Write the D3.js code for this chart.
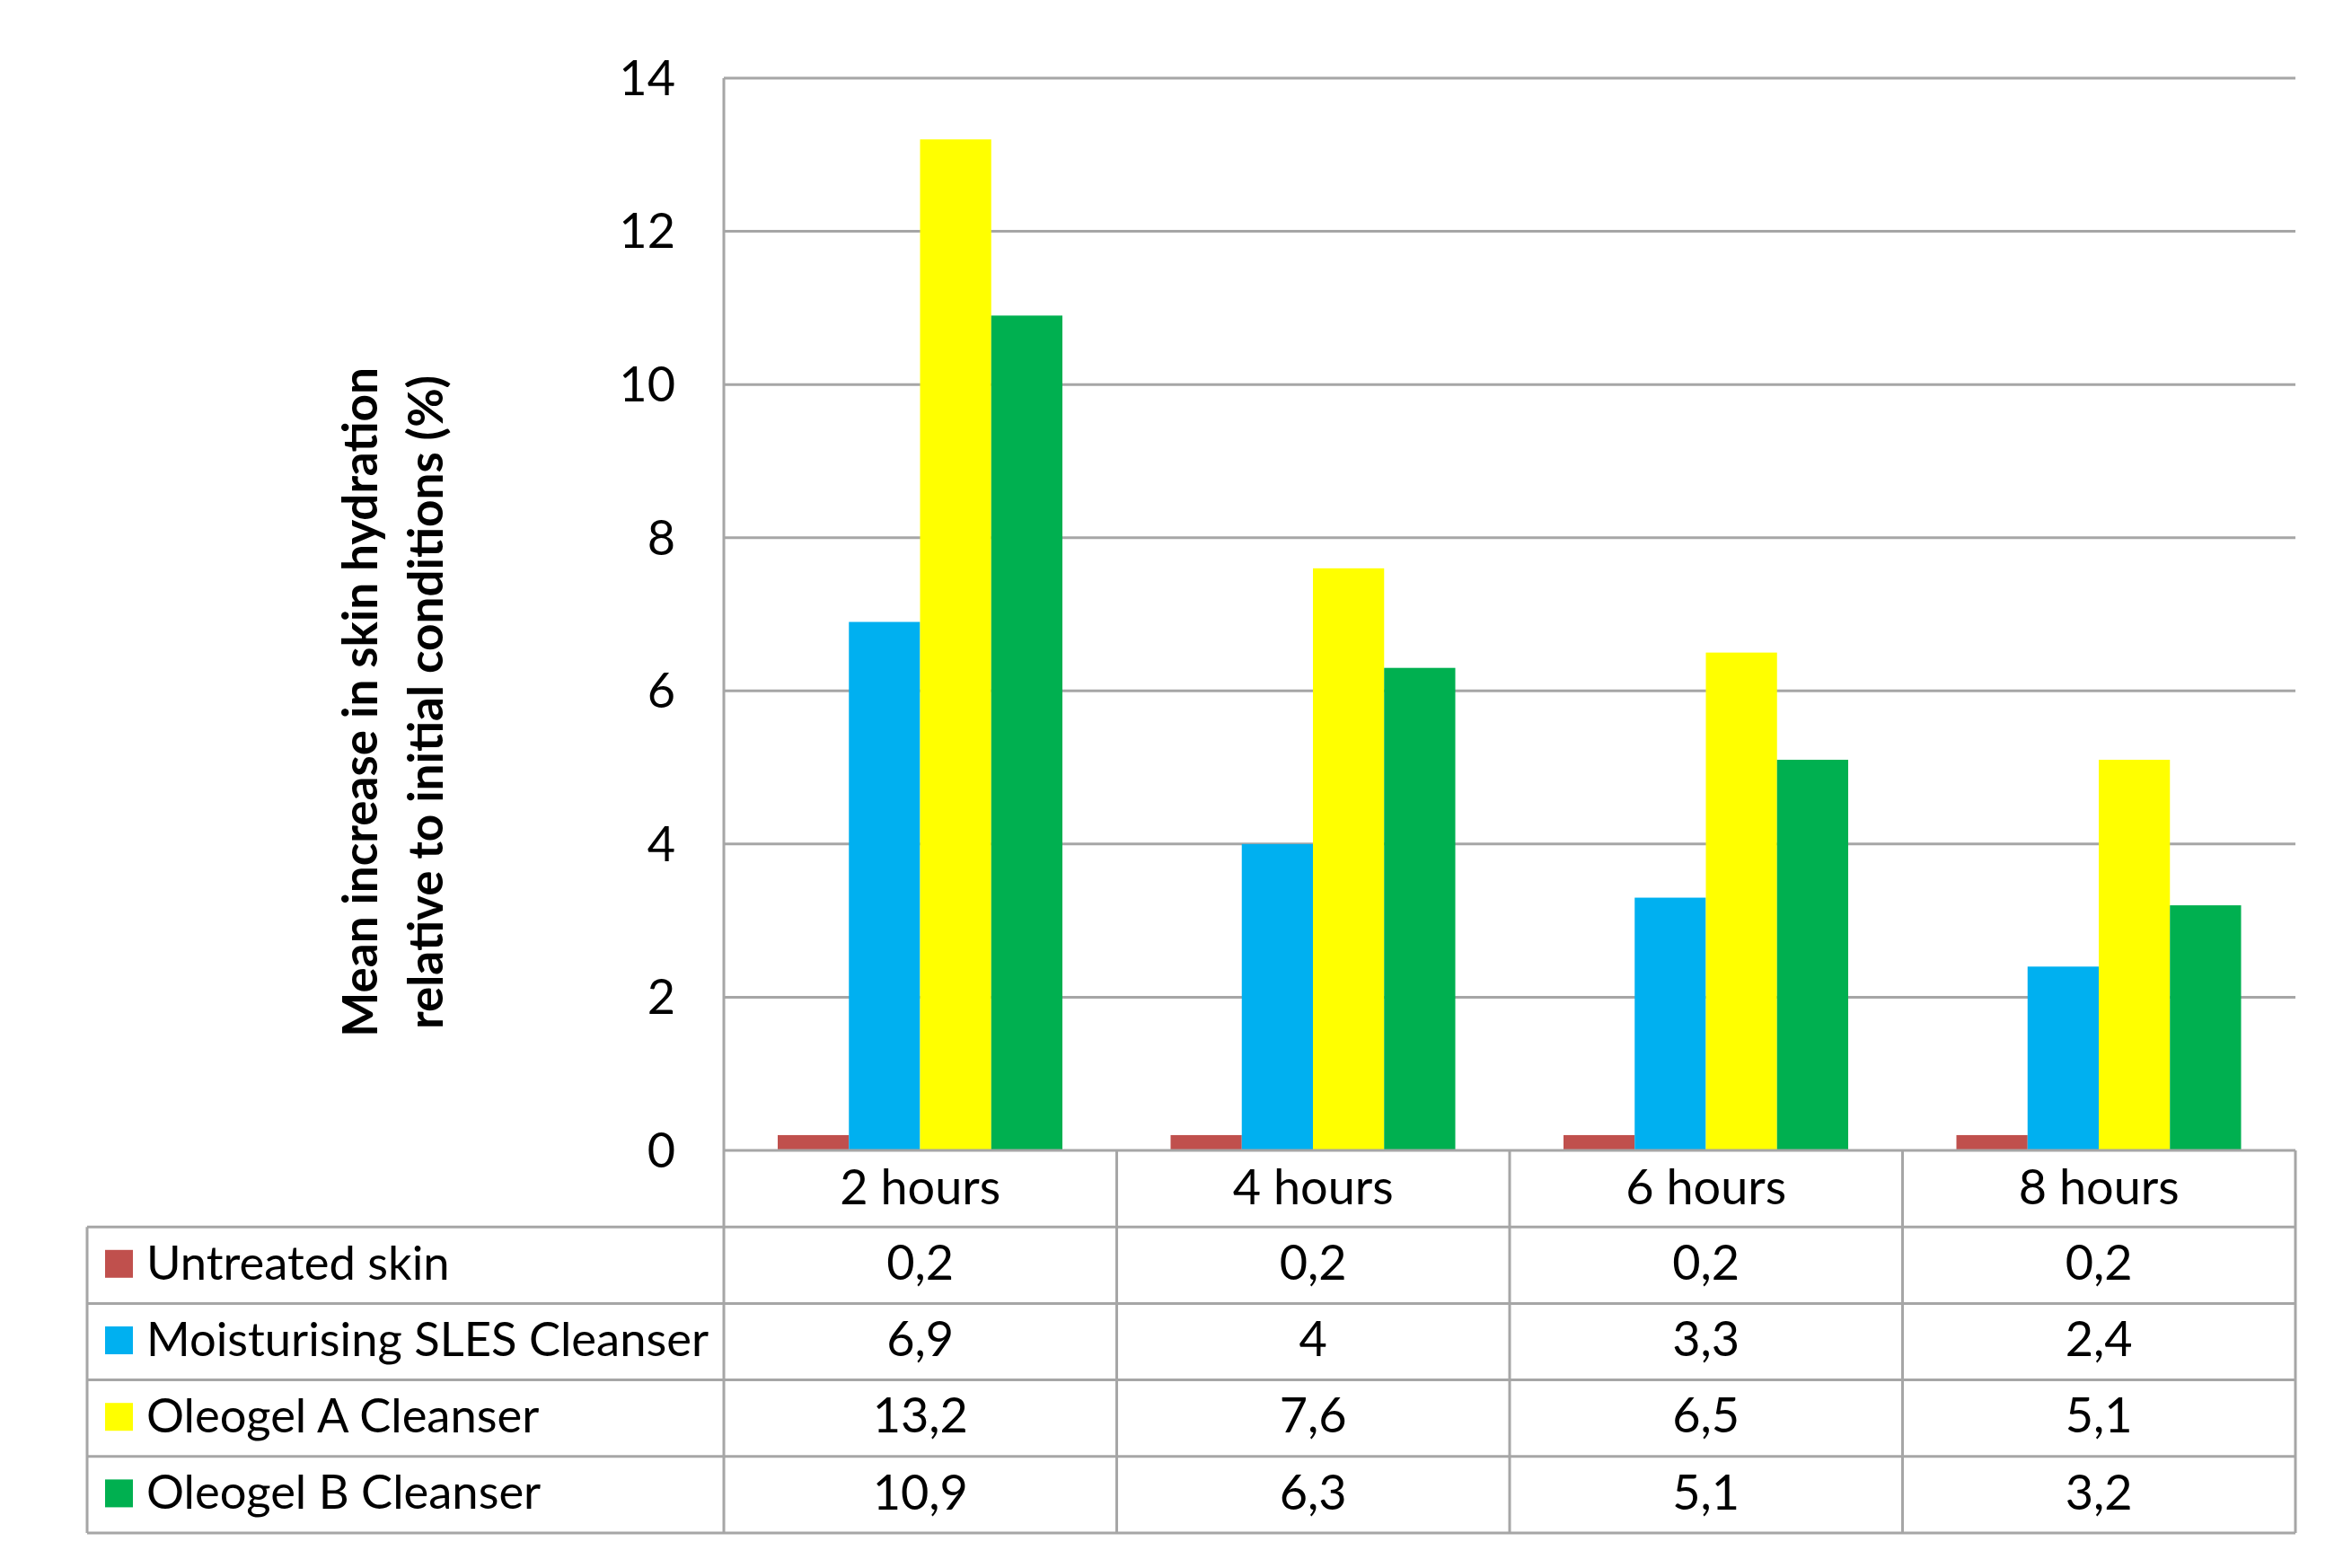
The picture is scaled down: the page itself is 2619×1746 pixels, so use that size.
<!DOCTYPE html>
<html><head><meta charset="utf-8">
<script src="https://cdn.jsdelivr.net/npm/d3@7/dist/d3.min.js"></script>
<style>html,body{margin:0;padding:0;background:#fff;} svg{display:block;}</style>
</head><body>
<svg id="c" width="2619" height="1746"></svg>
<script>
const categories = ["2 hours", "4 hours", "6 hours", "8 hours"];
const seriesNames = ["Untreated skin", "Moisturising SLES Cleanser", "Oleogel A Cleanser", "Oleogel B Cleanser"];
const untreated = [0.2, 0.2, 0.2, 0.2];
const moisturising = [6.9, 4, 3.3, 2.4];
const oleogelA = [13.2, 7.6, 6.5, 5.1];
const oleogelB = [10.9, 6.3, 5.1, 3.2];
const seriesColors = ["#C0504D", "#00B0F0", "#FFFF00", "#00B050"];
const yTicks = [0, 2, 4, 6, 8, 10, 12, 14];
const yTitle = ["Mean increase in skin hydration", "relative to initial conditions (%)"];

const seriesValues = [untreated, moisturising, oleogelA, oleogelB];
const fmt = v => String(v).replace(".", ",");

const svg = d3.select("#c");
const font = "Lato, 'Open Sans', sans-serif";
const grid = "#A6A6A6";
const L = 806, R = 2556, T = 87, B = 1281;
const tableLeft = 97;
const rowH = 85.2;
const fs = 54;

const x0 = d3.scaleBand().domain(categories).range([L, R]).paddingInner(0).paddingOuter(0);
const x1 = d3.scaleBand().domain(seriesNames).range([60, 377]).padding(0);
const y = d3.scaleLinear().domain([0, 14]).range([B, T]);

// gridlines
svg.append("g").selectAll("line").data(yTicks.filter(t => t > 0)).join("line")
  .attr("x1", L).attr("x2", R).attr("y1", d => y(d)).attr("y2", d => y(d))
  .attr("stroke", grid).attr("stroke-width", 3);

// bars
const g = svg.append("g");
seriesNames.forEach((s, si) => {
  g.selectAll(".b" + si).data(categories).join("rect")
    .attr("x", (c) => x0(c) + x1(s))
    .attr("width", x1.bandwidth())
    .attr("y", (c, i) => y(seriesValues[si][i]))
    .attr("height", (c, i) => y(0) - y(seriesValues[si][i]))
    .attr("fill", seriesColors[si]);
});

// y tick labels
svg.append("g").selectAll("text").data(yTicks).join("text")
  .attr("x", 752).attr("y", d => y(d)).attr("dy", "0.35em")
  .attr("text-anchor", "end").attr("font-family", font).attr("font-size", fs)
  .text(d => d);

// y title
const yt = svg.append("text").attr("transform", "translate(0,782) rotate(-90)")
  .attr("text-anchor", "middle").attr("font-family", font).attr("font-weight", "bold").attr("font-size", 53);
yt.append("tspan").attr("x", 0).attr("y", 420).text(yTitle[0]);
yt.append("tspan").attr("x", 0).attr("y", 493).text(yTitle[1]);

// table lines
const tb = svg.append("g").attr("stroke", grid).attr("stroke-width", 3).attr("fill", "none");
const bottom = B + rowH * 5;
tb.append("line").attr("x1", L).attr("x2", L).attr("y1", T).attr("y2", bottom);
tb.append("line").attr("x1", L).attr("x2", R).attr("y1", B).attr("y2", B);
for (let k = 1; k <= 5; k++) {
  tb.append("line").attr("x1", tableLeft).attr("x2", R).attr("y1", B + rowH * k).attr("y2", B + rowH * k);
}
tb.append("line").attr("x1", tableLeft).attr("x2", tableLeft).attr("y1", B + rowH).attr("y2", bottom);
categories.forEach((c, i) => {
  const xr = x0(c) + x0.bandwidth();
  tb.append("line").attr("x1", xr).attr("x2", xr).attr("y1", B).attr("y2", bottom);
});

// header labels
svg.append("g").selectAll("text").data(categories).join("text")
  .attr("x", c => x0(c) + x0.bandwidth() / 2).attr("y", B + rowH / 2).attr("dy", "0.32em")
  .attr("text-anchor", "middle").attr("font-family", font).attr("font-size", fs)
  .text(c => c);

// legend rows
seriesNames.forEach((s, si) => {
  const cy = B + rowH * (si + 1) + rowH / 2;
  svg.append("rect").attr("x", 117).attr("y", cy - 17).attr("width", 31).attr("height", 31).attr("fill", seriesColors[si]);
  svg.append("text").attr("x", 163).attr("y", cy).attr("dy", "0.3em")
    .attr("font-family", font).attr("font-size", 52.5).text(s);
  svg.append("g").selectAll("text").data(categories).join("text")
    .attr("x", c => x0(c) + x0.bandwidth() / 2).attr("y", cy).attr("dy", "0.3em")
    .attr("text-anchor", "middle").attr("font-family", font).attr("font-size", fs)
    .text((c, i) => fmt(seriesValues[si][i]));
});
</script>
</body></html>
